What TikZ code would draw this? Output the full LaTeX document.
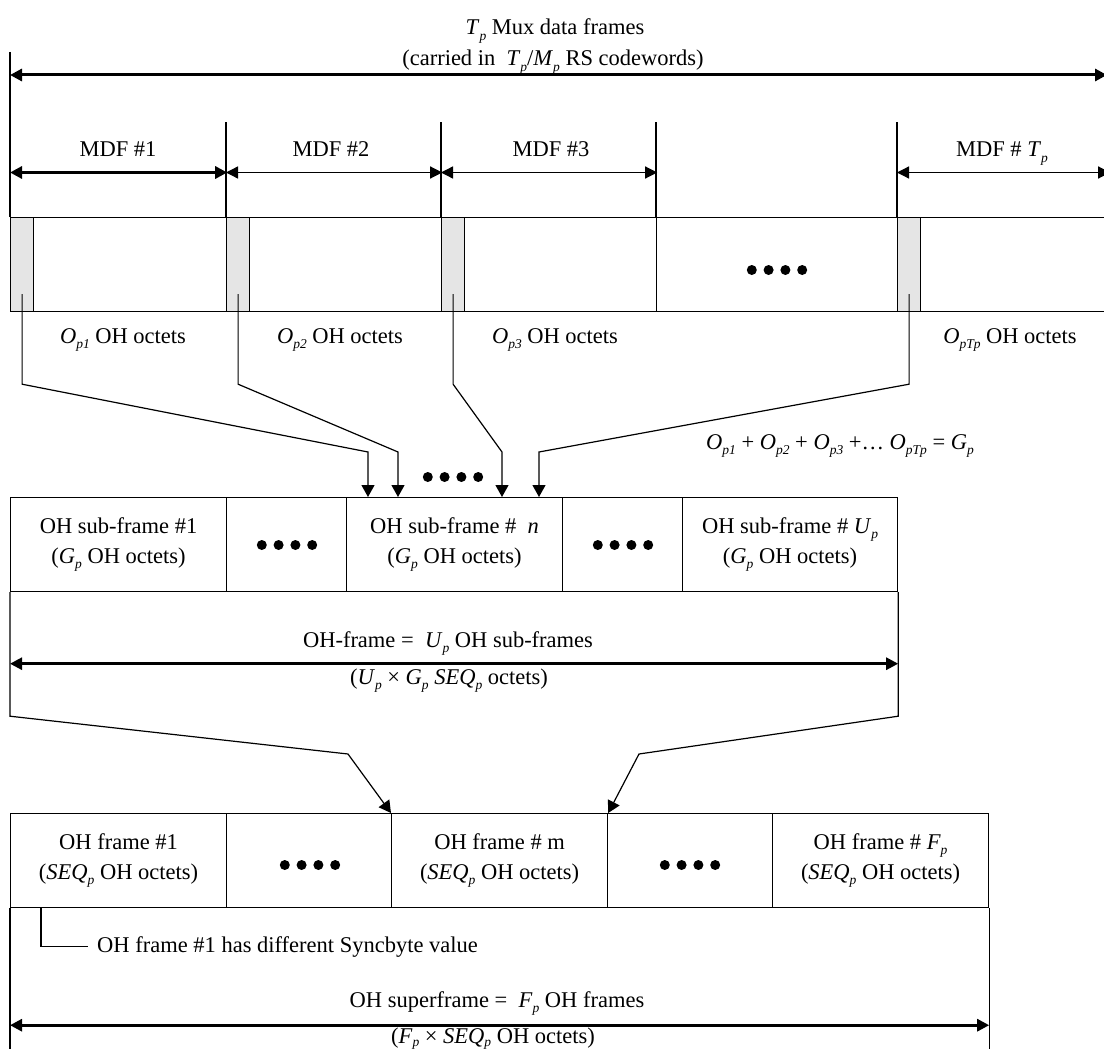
\documentclass[tikz,border=0pt]{standalone}
\usepackage{fontspec}
\setmainfont{Liberation Serif}
\usetikzlibrary{arrows.meta}
\newcommand\isub[2]{\textit{#1}\raisebox{-5.5pt}{\fontsize{13.5}{14}\selectfont\textit{#2}}}
\newcommand\isubs[2]{\textit{#1}\raisebox{-3pt}{\fontsize{13.5}{14}\selectfont\textit{#2}}}
\newcommand\fourdots[2]{\foreach \k in {0,1,2,3} \fill (#1-25.2+\k*16.8,#2) circle (5pt);}
\begin{document}
\begin{tikzpicture}[x=1pt,y=-1pt,
  txt/.style={font=\fontsize{22.5}{30}\selectfont, inner sep=0pt, align=center},
  ln/.style={line width=1.2pt},
  tip/.style={-{Triangle[length=12pt,width=13pt]}},
  dimarr/.style={{Triangle[length=12pt,width=12pt]}-{Triangle[length=12pt,width=12pt]}},
  thickdim/.style={dimarr, line width=3pt},
  thindim/.style={dimarr, line width=1.3pt},
  cell/.style={draw, line width=1.2pt, inner sep=0pt, anchor=north west, minimum height=94pt,
               font=\fontsize{22.5}{30}\selectfont, align=center},
  ohcell/.style={cell, fill=black!10, minimum width=23pt}]
\useasboundingbox (0,0) rectangle (1104,1049);
\clip (0,0) rectangle (1104,1049);

% ---------- top titles ----------
\node[txt, anchor=base] (t1) at (555,35) {\isub{T}{p} Mux data frames};
\node[txt, anchor=base] (t2) at (553,66) {(carried in \ \isub{T}{p}/\isub{M}{p} RS codewords)};
\coordinate (topL) at (10,75);
\coordinate (topR) at (1107,75);
\draw[ln] (10,52) -- (10,217);
\draw[thickdim] (topL) -- (topR);

% ---------- top row of MDFs ----------
\node[cell, minimum width=216pt] (m1) at (10,217) {};
\node[cell, minimum width=215pt] (m2) at (226,217) {};
\node[cell, minimum width=215pt] (m3) at (441,217) {};
\node[cell, minimum width=241pt] (m4) at (656,217) {};
\node[cell, minimum width=230pt] (m5) at (897,217) {};
\node[ohcell] (g1) at (10,217) {};
\node[ohcell] (g2) at (226,217) {};
\node[ohcell] (g3) at (441,217) {};
\node[ohcell] (g5) at (897,217) {};
\fourdots{777}{270}

\draw[ln] (m2.north west) -- ++(0,-95);
\draw[ln] (m3.north west) -- ++(0,-95);
\draw[ln] (m4.north west) -- ++(0,-95);
\draw[ln] (m5.north west) -- ++(0,-95);

\node[txt, anchor=base] (l1) at (118,157) {MDF \#1};
\node[txt, anchor=base] (l2) at (331,157) {MDF \#2};
\node[txt, anchor=base] (l3) at (551,157) {MDF \#3};
\node[txt, anchor=base] (l5) at (1002,157) {MDF \# \isub{T}{p}};

\draw[thickdim] ([yshift=44.5pt]m1.north west) -- ([yshift=44.5pt]m1.north east);
\draw[thindim] ([yshift=44.5pt]m2.north west) -- ([yshift=44.5pt]m2.north east);
\draw[thindim] ([yshift=44.5pt]m3.north west) -- ([yshift=44.5pt]m3.north east);
\draw[thindim] ([yshift=44.5pt]m5.north west) -- ([yshift=44.5pt,xshift=-18pt]m5.north east);

\node[txt, anchor=base] (o1) at (123,343) {\isub{O}{p1} OH octets};
\node[txt, anchor=base] (o2) at (340,343) {\isub{O}{p2} OH octets};
\node[txt, anchor=base] (o3) at (555,343) {\isub{O}{p3} OH octets};
\node[txt, anchor=base] (o5) at (1010,343) {\isub{O}{pTp} OH octets};

% ---------- OH sub-frames ----------
\node[cell, minimum width=216pt] (s1) at (10,497) {OH sub-frame \#1\\(\isub{G}{p} OH octets)};
\node[cell, minimum width=120pt] (s2) at (226,497) {};
\node[cell, minimum width=216pt] (s3) at (346,497) {OH sub-frame \# \ \textit{n}\\(\isub{G}{p} OH octets)};
\node[cell, minimum width=120pt] (s4) at (562,497) {};
\node[cell, minimum width=215pt] (s5) at (682,497) {OH sub-frame \# \isub{U}{p}\\(\isub{G}{p} OH octets)};
\fourdots{287}{545}
\fourdots{623}{545}
\fourdots{453}{477}

\draw[ln,tip] ([yshift=18pt]g1.south) -- ++(0,90) -- ([xshift=22pt,yshift=45pt]s3.north west) -- ([xshift=22pt]s3.north west);
\draw[ln,tip] ([yshift=18pt]g2.south) -- ++(0,90) -- ([xshift=52pt,yshift=45pt]s3.north west) -- ([xshift=52pt]s3.north west);
\draw[ln,tip] ([yshift=18pt]g3.south) -- ++(0,90) -- ([xshift=156pt,yshift=45pt]s3.north west) -- ([xshift=156pt]s3.north west);
\draw[ln,tip] ([yshift=18pt]g5.south) -- ++(0,90) -- ([xshift=193pt,yshift=45pt]s3.north west) -- ([xshift=193pt]s3.north west);

\node[txt, anchor=base] (sum) at (840,449) {\isub{O}{p1} + \isub{O}{p2} + \isub{O}{p3} +… \isub{O}{pTp} = \isub{G}{p}};

\node[txt, anchor=base] (ohf) at (448,647) {OH-frame = \ \isub{U}{p} OH sub-frames};
\draw[thickdim, line width=2.6pt] ([yshift=-71.5pt]s1.south west) -- ([yshift=-71.5pt]s5.south east);
\node[txt, anchor=base] (ohf2) at (449,684) {(\isub{U}{p} × \isub{G}{p} \isub{SEQ}{p} octets)};

% ---------- OH frames ----------
\node[cell, minimum width=216pt] (f1) at (10,813) {OH frame \#1\\(\isub{SEQ}{p} OH octets)};
\node[cell, minimum width=165pt] (f2) at (226,813) {};
\node[cell, minimum width=216pt] (f3) at (391,813) {OH frame \# m\\(\isub{SEQ}{p} OH octets)};
\node[cell, minimum width=165pt] (f4) at (607,813) {};
\node[cell, minimum width=216pt] (f5) at (772,813) {OH frame \# \isub{F}{p}\\(\isub{SEQ}{p} OH octets)};
\fourdots{310}{865}
\fourdots{690}{865}

% funnel connectors
\draw[ln,tip] (s1.south west) -- ++(0,124) -- (348,754) -- (f3.north west);
\draw[ln,tip] (s5.south east) -- ++(0,124) -- (639,754) -- (f3.north east);

% superframe block
\draw[ln] (f1.south west) -- ++(0,160);
\draw[ln] (f5.south east) -- ++(0,160);
\node[txt, anchor=base west] (syn) at (97,952) {OH frame \#1 has different Syncbyte value};
\draw[ln] ([xshift=31pt]f1.south west) |- ([xshift=-9pt]syn.west);

\node[txt, anchor=base] (sf) at (497,1007) {OH superframe = \ \isub{F}{p} OH frames};
\draw[thickdim, line width=2.8pt] ([yshift=-117pt]f1.south west) -- ([yshift=-117pt]f5.south east);
\node[txt, anchor=base] (sf2) at (493,1043) {(\isubs{F}{p} × \isubs{SEQ}{p} OH octets)};
\end{tikzpicture}
\end{document}
